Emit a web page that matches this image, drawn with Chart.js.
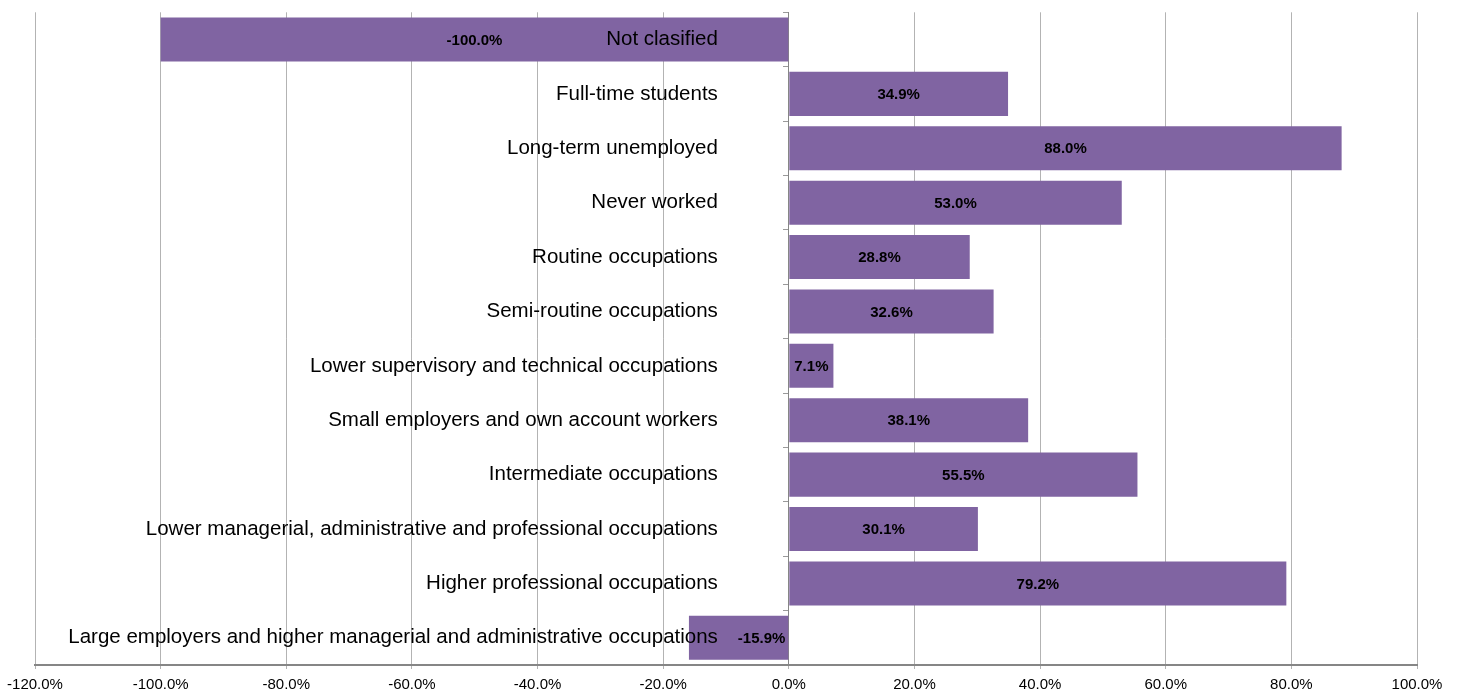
<!DOCTYPE html>
<html>
<head>
<meta charset="utf-8">
<script src="https://cdn.jsdelivr.net/npm/chart.js@4"></script>
<style>
  html, body { margin: 0; padding: 0; background: #fff; }
  #wrap { width: 1457px; height: 691px; }
</style>
</head>
<body>
<div id="wrap"><canvas id="occGraph"></canvas></div>
<script>
const categories = [
    "Not clasified",
    "Full-time students",
    "Long-term unemployed",
    "Never worked",
    "Routine occupations",
    "Semi-routine occupations",
    "Lower supervisory and technical occupations",
    "Small employers and own account workers",
    "Intermediate occupations",
    "Lower managerial, administrative and professional occupations",
    "Higher professional occupations",
    "Large employers and higher managerial and administrative occupations"
]

const changes = [-100.0, 34.9, 88.0, 53.0, 28.8, 32.6, 7.1, 38.1, 55.5, 30.1, 79.2, -15.9]

const axisMin = -120
const axisMax = 100
const axisStep = 20
const labelAt = -11.3   // where the category names end, in axis units

const catFont = "20.5px 'Liberation Sans', Arial, sans-serif"

// draws the bold value in the middle of every bar
const barValues = {
    id: "barValues",
    afterDraw(chart) {
        const ctx = chart.ctx
        const meta = chart.getDatasetMeta(0)
        const labelEnd = chart.scales.x.getPixelForValue(labelAt)
        ctx.save()
        ctx.fillStyle = "#000"
        ctx.textAlign = "center"
        ctx.textBaseline = "middle"
        meta.data.forEach(function (bar, i) {
            const value = chart.data.datasets[0].data[i]
            const text = value.toFixed(1) + "%"
            ctx.font = catFont
            const catStart = labelEnd - ctx.measureText(categories[i]).width
            ctx.font = "bold 15px 'Liberation Sans', Arial, sans-serif"
            const w = ctx.measureText(text).width
            let x = (bar.x + bar.base) / 2
            // keep clear of the category name when they would overlap
            if (x - w / 2 < labelEnd && x + w / 2 > catStart) {
                x = bar.base - w / 2 - 3
            }
            ctx.fillText(text, x, bar.y + 1)
        })
        ctx.restore()
    }
}

const data = {
    labels: categories,
    datasets: [{
        data: changes,
        backgroundColor: "#8064A2",
        borderWidth: 0,
        barPercentage: 0.81,
        categoryPercentage: 1
    }]
}

const config = {
    type: "bar",
    data,
    options: {
        indexAxis: "y",
        responsive: true,
        maintainAspectRatio: false,
        animation: false,
        layout: {
            padding: { left: 35, right: 40, top: 12, bottom: 0 }
        },
        plugins: {
            legend: { display: false },
            tooltip: { enabled: false }
        },
        scales: {
            x: {
                min: axisMin,
                max: axisMax,
                afterFit: function (scale) {
                    scale.height = 26
                },
                ticks: {
                    stepSize: axisStep,
                    color: "#000",
                    padding: 7,
                    maxRotation: 0,
                    font: { family: "'Liberation Sans', Arial, sans-serif", size: 15 },
                    callback: function (value) {
                        return value.toFixed(1) + "%"
                    }
                },
                grid: {
                    color: "#b3b3b3",
                    lineWidth: 1,
                    tickLength: 4
                },
                border: {
                    color: "#868686",
                    width: 2
                }
            },
            // category names, placed a little left of the zero line
            y: {
                position: { x: labelAt },
                ticks: {
                    z: 1,
                    color: "#000",
                    padding: 0,
                    autoSkip: false,
                    font: { family: "'Liberation Sans', Arial, sans-serif", size: 20.5 }
                },
                grid: { display: false },
                border: { display: false }
            },
            // zero line with the short category ticks
            y2: {
                type: "category",
                position: { x: 0 },
                ticks: { display: false },
                grid: {
                    offset: true,
                    drawOnChartArea: false,
                    tickLength: 5,
                    tickColor: "#9a9a9a"
                },
                border: {
                    color: "#868686",
                    width: 1
                }
            }
        }
    },
    plugins: [barValues]
}

const myChart = new Chart(document.getElementById("occGraph"), config)
</script>
</body>
</html>
